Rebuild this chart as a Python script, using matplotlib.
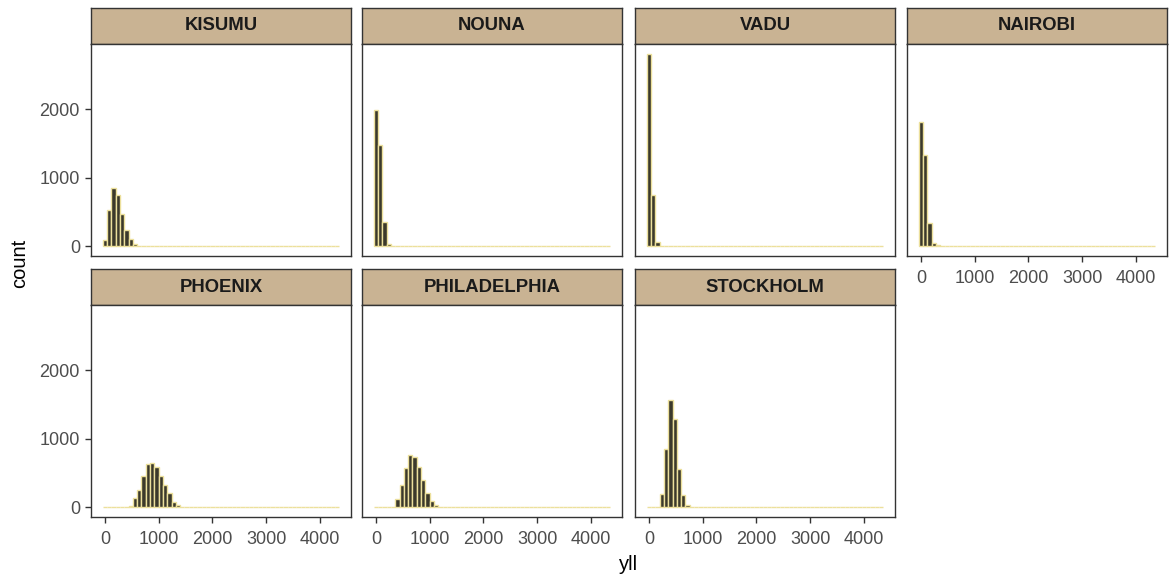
import numpy as np
import matplotlib.pyplot as plt

plt.rcParams['font.family'] = ['Liberation Sans', 'DejaVu Sans']

# histogram of yll per site, bins of width 80 centred on 0, 80, 160, ...
bin_width = 80
n_bins = 55

cities = ["KISUMU", "NOUNA", "VADU", "NAIROBI", "PHOENIX", "PHILADELPHIA", "STOCKHOLM"]

kisumu = [87, 534, 850, 743, 480, 243, 107, 30, 12, 6, 4, 3, 2, 2, 1, 1, 1]
nouna = [1990, 1480, 350, 35, 12, 6, 4, 3, 2, 2, 1, 1, 1]
vadu = [2815, 752, 58, 12, 5, 3, 2, 1, 1, 1]
nairobi = [1810, 1335, 340, 49, 18, 10, 7, 5, 4, 3, 2, 2, 1, 1]
phoenix = [0, 0, 0, 0, 1, 5, 25, 130, 247, 460, 630, 650, 595, 460, 325, 208,
           77, 35, 12, 5, 2, 1]
philadelphia = [0, 0, 0, 1, 10, 120, 330, 570, 765, 740, 595, 400, 208, 100,
                30, 10, 4, 2, 1]
stockholm = [0, 0, 5, 194, 852, 1564, 1293, 562, 174, 29, 8, 3, 1]

series = [kisumu, nouna, vadu, nairobi, phoenix, philadelphia, stockholm]

x_ticks = [0, 1000, 2000, 3000, 4000]
y_ticks = [0, 1000, 2000]

W, H = 1169, 579
fig = plt.figure(figsize=(W / 100, H / 100), dpi=100)

col_left = [91, 362, 635, 907]
panel_w = 260
row_strip_top = [8, 269]
strip_h = 36
panel_h = 212

fill_col = "#3b392b"
edge_col = "#ece09c"
strip_col = "#c9b393"
frame_col = "#333333"
tick_col = "#4d4d4d"

centres = np.arange(n_bins) * bin_width
ymax = max(max(s) for s in series)

for i, (name, vals) in enumerate(zip(cities, series)):
    r, c = divmod(i, 4)
    x0 = col_left[c]
    top = row_strip_top[r]

    # strip on top of each facet
    sax = fig.add_axes([x0 / W, 1 - (top + strip_h) / H, panel_w / W, strip_h / H])
    sax.set_facecolor(strip_col)
    sax.set_xticks([])
    sax.set_yticks([])
    for sp in sax.spines.values():
        sp.set_color(frame_col)
        sp.set_linewidth(1.0)
    sax.text(0.5, 0.5, name, ha="center", va="center", fontsize=13.3,
             fontweight="bold", color="#1a1a1a", transform=sax.transAxes)

    ax = fig.add_axes([x0 / W, 1 - (top + strip_h + panel_h) / H,
                       panel_w / W, panel_h / H])
    counts = np.zeros(n_bins)
    counts[:len(vals)] = vals
    ax.bar(centres, counts, width=bin_width, color=fill_col,
           edgecolor=edge_col, linewidth=1.0)

    lo, hi = centres[0] - bin_width / 2, centres[-1] + bin_width / 2
    pad = (hi - lo) * 0.05
    ax.set_xlim(lo - pad, hi + pad)
    ax.set_ylim(-0.05 * ymax, 1.05 * ymax)

    for sp in ax.spines.values():
        sp.set_color(frame_col)
        sp.set_linewidth(1.0)

    ax.set_xticks(x_ticks)
    ax.set_yticks(y_ticks)
    ax.tick_params(colors=frame_col, labelcolor=tick_col, labelsize=13,
                   length=4.5, width=1.0, pad=3.5)
    ax.tick_params(axis="x", pad=5.5)
    if c != 0:
        ax.tick_params(axis="y", left=False, labelleft=False)
    if not (r == 1 or c == 3):
        ax.tick_params(axis="x", bottom=False, labelbottom=False)

fig.text(20 / W, 1 - 263 / H, "count", rotation=90, ha="center", va="center",
         fontsize=14.5, color="black")
fig.text(629 / W, 1 - 565 / H, "yll", ha="center", va="center",
         fontsize=14.5, color="black")

fig.savefig("out.png", dpi=100)
